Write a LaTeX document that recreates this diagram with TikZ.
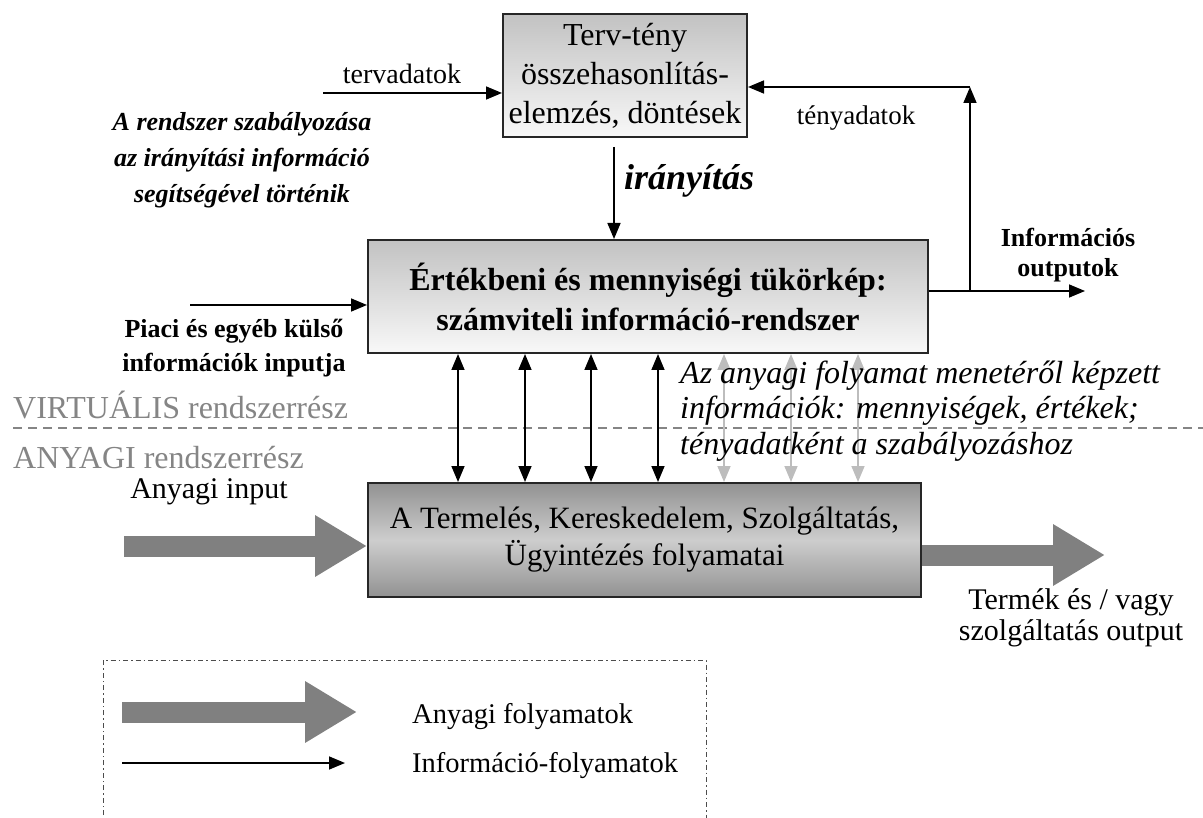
\documentclass[tikz,border=0pt]{standalone}
\usepackage{fontspec}
\setmainfont{Liberation Serif}
\usetikzlibrary{arrows.meta}
\definecolor{matgray}{HTML}{808080}
\definecolor{lightarr}{HTML}{BDBDBD}
\definecolor{labgray}{HTML}{858585}
\definecolor{boxtop}{HTML}{C2C2C2}
\definecolor{boxbot}{HTML}{F8F8F8}
\definecolor{procedge}{HTML}{929292}
\definecolor{procmid}{HTML}{CDCDCD}

\begin{document}
\begin{tikzpicture}[x=1pt,y=-1pt,
  box/.style={draw=black!85, line width=2pt, align=center, inner sep=0pt},
  lab/.style={inner sep=0pt, align=center},
  tipb/.tip={Triangle[length=16pt,width=13pt]},
  info/.style={line width=1.6pt, -tipb},
  dbl/.style={line width=1.6pt, tipb-tipb},
  dblgray/.style={dbl, color=lightarr},
  mat/.style={draw=matgray, line width=21pt, -{Triangle[length=52pt,width=58pt]}},
  sepline/.style={draw=labgray, line width=1.4pt, dash pattern=on 9pt off 6pt},
  legendbox/.style={draw=black!70, line width=1pt, dash pattern=on 5pt off 3pt on 1.5pt off 3pt}
]
\useasboundingbox (0,0) rectangle (1203,818);

% boxes
\node[box, minimum width=244pt, minimum height=123pt, top color=boxtop, bottom color=boxbot,
      font=\fontsize{32}{39}\selectfont] (terv) at (625,75.5)
      {Terv-tény\\összehasonlítás-\\elemzés, döntések};
\node[box, minimum width=560pt, minimum height=113pt, top color=boxtop, bottom color=boxbot,
      font=\fontsize{32}{40}\selectfont\bfseries] (main) at (648,296.5)
      {Értékbeni és mennyiségi tükörkép:\\számviteli információ-rendszer};
\node[box, minimum width=553pt, minimum height=114pt, top color=procedge, bottom color=procedge, middle color=procmid,
      font=\fontsize{31}{37}\selectfont] (proc) at (644.5,540)
      {A Termelés, Kereskedelem, Szolgáltatás,\\Ügyintézés folyamatai};

% planned data into the comparison box
\coordinate (tvA) at (323,93);
\draw[info] (tvA) -- (tvA -| terv.west);
\node[lab, font=\fontsize{28}{30}\selectfont] (tvL) at (402,74) {tervadatok};

% control arrow
\coordinate (irA) at (614,147);
\draw[info] (irA) -- (irA |- main.north);
\node[lab, anchor=west, font=\fontsize{36}{40}\selectfont\bfseries\itshape] (irL) at (624,181) {irányítás};

\node[lab, font=\fontsize{26}{36}\selectfont\bfseries\itshape] (szab) at (242,160)
  {A rendszer szabályozása\\az irányítási információ\\segítségével történik};

% information outputs and feedback
\coordinate (outE) at (1085,291);
\coordinate (up) at (970,291);
\coordinate (corner) at (970,87);
\draw[info] (main.east |- outE) -- (outE);
\draw[info] (up) -- (corner);
\draw[info] (corner) -- (corner -| terv.east);
\node[lab, font=\fontsize{27}{30}\selectfont] (tyL) at (856,118) {tényadatok};
\node[lab, font=\fontsize{26}{30}\selectfont\bfseries] (outL) at (1068,255) {Információs\\outputok};

% external inputs
\coordinate (piA) at (190,305);
\draw[info] (piA) -- (piA -| main.west);
\node[lab, font=\fontsize{26}{34}\selectfont\bfseries] (piL) at (234,348)
  {Piaci és egyéb külső\\információk inputja};

% virtual / material separation
\node[lab, anchor=west, text=labgray, font=\fontsize{32}{34}\selectfont] (virt) at (13,405) {VIRTUÁLIS rendszerrész};
\node[lab, anchor=west, text=labgray, font=\fontsize{32}{34}\selectfont] (anyag) at (13,458) {ANYAGI rendszerrész};
\draw[sepline] (13,428) -- (1203,428);

% two-way information flows between the layers
\foreach \x in {458,525,591,658} {
  \coordinate (b\x) at (\x,0);
  \draw[dbl] (main.south -| b\x) -- (proc.north -| b\x);
}
\foreach \x in {724,791,858} {
  \coordinate (g\x) at (\x,0);
  \draw[dblgray] (main.south -| g\x) -- (proc.north -| g\x);
}
\node[lab, anchor=west, align=left, font=\fontsize{32}{35.5}\selectfont\itshape] (facts) at (680,411)
  {Az anyagi folyamat menetéről képzett\\információk: mennyiségek, értékek;\\tényadatként a szabályozáshoz};

% material flows
\coordinate (inA) at (124,546);
\draw[mat] (inA) -- (inA -| proc.west);
\node[lab, font=\fontsize{30}{34}\selectfont] (inL) at (209,492) {Anyagi input};
\coordinate (outM) at (1105,555);
\draw[mat] (proc.east |- outM) -- (outM);
\node[lab, font=\fontsize{30}{31}\selectfont] (outML) at (1071,618) {Termék és / vagy\\szolgáltatás output};

% legend
\draw[legendbox] (103,840) -- (103,660) -- (706,660) -- (706,840);
\coordinate (lgA) at (122,712);
\coordinate (lgAe) at (357,712);
\draw[mat] (lgA) -- (lgAe);
\node[lab, anchor=west, font=\fontsize{28.5}{30}\selectfont] (lgAL) at (412,717) {Anyagi folyamatok};
\coordinate (lgB) at (122,763);
\coordinate (lgBe) at (345,763);
\draw[info] (lgB) -- (lgBe);
\node[lab, anchor=west, font=\fontsize{28.5}{30}\selectfont] (lgBL) at (412,766) {Információ-folyamatok};
\end{tikzpicture}
\end{document}
